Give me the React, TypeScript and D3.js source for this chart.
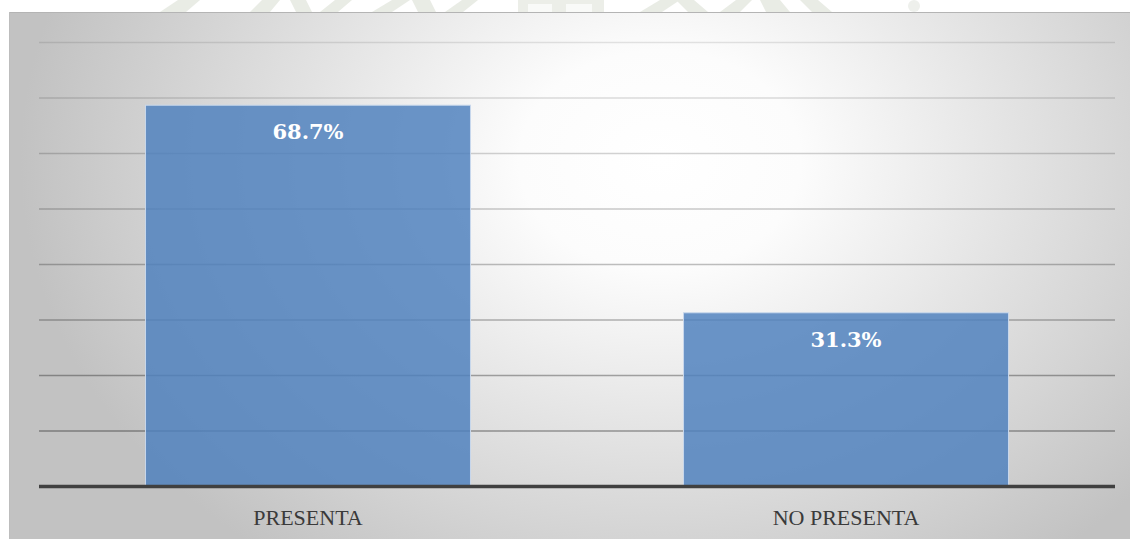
import React from "react";
import * as d3 from "d3";

const categories: string[] = ["PRESENTA", "NO PRESENTA"];
const values: number[] = [68.7, 31.3];
const gridTicks: number[] = [0, 10, 20, 30, 40, 50, 60, 70, 80];

const W = 1130;
const H = 539;
const plot = { left: 39, right: 1115, top: 42.5, bottom: 486.5 };

export default function App() {
  const x = d3
    .scaleBand<string>()
    .domain(categories)
    .range([plot.left, plot.right])
    .paddingInner(0.396)
    .paddingOuter(0.198);
  const y = d3.scaleLinear().domain([0, 80]).range([plot.bottom, plot.top]);
  const fmt = (v: number) => d3.format(".1f")(v) + "%";

  return (
    <svg
      width={W}
      height={H}
      style={{ position: "absolute", left: 0, top: 0, display: "block" }}
    >
      <defs>
        <radialGradient
          id="bg"
          gradientUnits="userSpaceOnUse"
          cx={660}
          cy={160}
          r={640}
          gradientTransform="translate(660 160) scale(1 0.78) translate(-660 -160)"
        >
          <stop offset="0" stopColor="#ffffff" />
          <stop offset="0.22" stopColor="#fcfcfc" />
          <stop offset="1" stopColor="#c2c2c2" />
        </radialGradient>
      </defs>
      <rect x={0} y={0} width={W} height={H} fill="#ffffff" />
      {/* faint watermark remnants above the chart panel */}
      <g fill="#e9ece5">
        <path d="M160,12 L178,0 L200,0 L186,12 Z" />
        <path d="M250,12 L262,0 L280,0 L270,12 Z" />
        <path d="M296,12 L290,0 L306,0 L312,12 Z" />
        <path d="M320,12 L335,0 L352,0 L338,12 Z" />
        <path d="M372,12 L392,0 L410,0 L392,12 Z" />
        <path d="M418,12 L412,0 L430,0 L436,12 Z" />
        <path d="M445,12 L462,0 L478,0 L463,12 Z" />
        <rect x={518} y={0} width={86} height={12} fill="#eceee8" />
        <rect x={528} y={4} width={24} height={8} fill="#f9faf8" />
        <rect x={566} y={4} width={26} height={8} fill="#f9faf8" />
        <path d="M640,12 L660,0 L680,0 L662,12 Z" />
        <path d="M688,12 L676,0 L694,0 L708,12 Z" />
        <path d="M720,12 L736,0 L752,0 L740,12 Z" />
        <path d="M766,12 L760,0 L780,0 L790,12 Z" />
        <path d="M812,12 L800,0 L818,0 L832,12 Z" />
        <circle cx={914} cy={6} r={6} fill="#eef0ec" />
      </g>
      {/* chart panel */}
      <rect x={9} y={12} width={W - 9} height={H - 12} fill="url(#bg)" />
      <line x1={9} x2={W} y1={12.5} y2={12.5} stroke="#b4b4b4" strokeWidth={1.2} />
      <line x1={9.5} x2={9.5} y1={12} y2={H} stroke="#bdbdbd" strokeWidth={1} />

      {/* gridlines */}
      <g>
        {gridTicks
          .filter((t) => t > 0)
          .map((t) => (
            <line
              key={t}
              x1={plot.left}
              x2={plot.right}
              y1={y(t)}
              y2={y(t)}
              stroke="#000000"
              strokeOpacity={0.1 + 0.3 * (1 - t / 80)}
              strokeWidth={1.4}
            />
          ))}
      </g>

      {/* bars */}
      <g>
        {categories.map((c, i) => (
          <rect
            key={c}
            x={x(c)!}
            y={y(values[i])}
            width={x.bandwidth()}
            height={y(0) - y(values[i])}
            fill="#4f81bd"
            fillOpacity={0.84}
            stroke="#c8d8ec"
            strokeWidth={1}
          />
        ))}
      </g>

      {/* axis line */}
      <line
        x1={plot.left}
        x2={plot.right}
        y1={y(0)}
        y2={y(0)}
        stroke="#404040"
        strokeWidth={3.5}
      />

      {/* value labels */}
      <g>
        {categories.map((c, i) => (
          <text
            key={c}
            x={x(c)! + x.bandwidth() / 2}
            y={y(values[i]) + 34}
            textAnchor="middle"
            fill="#ffffff"
            fontFamily="'DejaVu Serif', serif"
            fontWeight="bold"
            fontSize={21}
          >
            {fmt(values[i])}
          </text>
        ))}
      </g>

      {/* category labels */}
      <g>
        {categories.map((c) => (
          <text
            key={c}
            x={x(c)! + x.bandwidth() / 2}
            y={525}
            textAnchor="middle"
            fill="#3a3a3a"
            fontFamily="'Liberation Serif', serif"
            fontSize={22}
          >
            {c}
          </text>
        ))}
      </g>
    </svg>
  );
}
